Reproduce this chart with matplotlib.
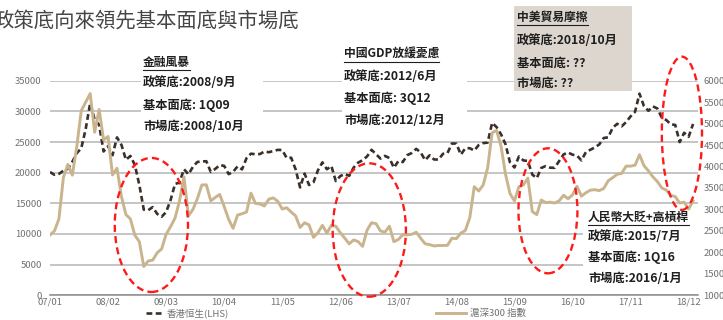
import numpy as np
import matplotlib
matplotlib.use('Agg')
import matplotlib.pyplot as plt
from matplotlib.patches import Ellipse, Rectangle
from matplotlib.lines import Line2D

plt.rcParams['font.family'] = ['Noto Sans CJK TC', 'DejaVu Sans']

# monthly closes, Jan 2007 .. Jan 2019
hsi = [20106, 19651, 19801, 20318, 20635, 21773, 23185, 23984, 27143, 31352, 28643, 27813,
       23456, 24332, 22849, 25755, 24533, 22102, 22731, 21261, 18016, 13969, 13888, 14387,
       13278, 12812, 13576, 15521, 18171, 18379, 20573, 19724, 20955, 21753, 21822, 21873,
       20122, 20609, 21239, 21108, 19765, 20129, 21030, 20536, 22359, 23096, 23008, 23035,
       23447, 23338, 23528, 23720, 23684, 22398, 22440, 20535, 17592, 19864, 17989, 18434,
       20390, 21680, 20556, 21094, 18630, 19441, 19797, 19482, 20840, 21642, 22030, 22657,
       23729, 23020, 22300, 22737, 22392, 20803, 21883, 21731, 22860, 23206, 23881, 23306,
       22035, 22837, 22151, 22134, 23082, 23191, 24757, 24742, 22933, 23998, 23987, 23605,
       24507, 24823, 24901, 28133, 27424, 26250, 24636, 21671, 20846, 22640, 21996, 21914,
       19683, 19112, 20777, 21067, 20815, 20794, 21891, 22977, 23297, 22935, 22790, 22001,
       23361, 23741, 24112, 24615, 25661, 25765, 27324, 27970, 27554, 28246, 29177, 29919,
       32887, 30845, 30093, 30808, 30469, 28955, 28583, 27889, 27789, 24980, 26507, 25846,
       27942]

csi300 = [2405, 2500, 2780, 3750, 4050, 3800, 4470, 5300, 5500, 5700, 4800, 5330,
          4620, 4700, 3805, 3960, 3300, 2880, 2780, 2400, 2250, 1670, 1800, 1820,
          1990, 2080, 2420, 2600, 2800, 3200, 3760, 2850, 3000, 3250, 3570, 3575,
          3200, 3280, 3350, 3070, 2770, 2560, 2870, 2900, 2940, 3380, 3140, 3130,
          3080, 3240, 3270, 3190, 3010, 3040, 2940, 2850, 2580, 2690, 2640, 2350,
          2460, 2630, 2450, 2630, 2610, 2460, 2330, 2200, 2290, 2250, 2140, 2520,
          2690, 2670, 2500, 2470, 2610, 2250, 2300, 2410, 2410, 2420, 2470, 2330,
          2200, 2180, 2150, 2160, 2160, 2165, 2330, 2320, 2450, 2510, 2810, 3530,
          3430, 3570, 3970, 4790, 4840, 4470, 3820, 3370, 3200, 3530, 3570, 3730,
          2950, 2880, 3220, 3160, 3170, 3150, 3200, 3330, 3250, 3340, 3540, 3310,
          3390, 3450, 3460, 3440, 3490, 3670, 3740, 3820, 3840, 4010, 4010, 4030,
          4275, 4020, 3900, 3760, 3650, 3500, 3450, 3330, 3300, 3150, 3170, 3010,
          3200]

tick_labels = ['07/01', '08/02', '09/03', '10/04', '11/05', '12/06',
               '13/07', '14/08', '15/09', '16/10', '17/11', '18/12']

# (month centre, width in months, HSI centre, height in HSI units)
ellipses = [(22.7, 16.4, 11470, 21860),
            (71.5, 16.4, 10650, 21750),
            (111.5, 13.2, 13780, 20390),
            (141.5, 9.0, 26420, 25000)]

notes = [
    ('金融風暴', ['政策底:2008/9月', '基本面底: 1Q09', '市場底:2008/10月'], 143, [62, 82, 105, 127]),
    ('中國GDP放緩憂慮', ['政策底:2012/6月', '基本面底: 3Q12', '市場底:2012/12月'], 344, [54, 76, 98, 120]),
    ('中美貿易摩擦', ['政策底:2018/10月', '基本面底: ??', '市場底: ??'], 517, [17, 41, 63, 83]),
    ('人民幣大貶+高槓桿', ['政策底:2015/7月', '基本面底: 1Q16', '市場底:2016/1月'], 588, [217, 237, 257, 278]),
]

W, H = 723, 320
def fx(px):
    return px / W
def fy(py):
    return 1 - py / H

fig = plt.figure(figsize=(W / 100, H / 100), dpi=100)
ax = fig.add_axes([fx(50), fy(295.3), 648 / W, 214.6 / H])
months = np.arange(len(hsi))

ax.plot(months, hsi, color='#3b3029', lw=1.9, ls=(0, (2.2, 1.3)), zorder=3)
ax.set_xlim(0, 145.1)
ax.set_ylim(0, 35000)
ax.set_yticks(np.arange(0, 35001, 5000))
ax.set_xticks(np.arange(0, 144, 13))
ax.set_xticklabels(tick_labels)
ax.grid(axis='y', color='#b5b5b5', lw=1.1)
ax.set_axisbelow(True)
for s in ['top', 'left', 'right']:
    ax.spines[s].set_visible(False)
ax.spines['bottom'].set_color('#8a8a8a')
ax.spines['bottom'].set_linewidth(1.1)
ax.tick_params(length=0, labelsize=6.8, colors='#707070', pad=6)
ax.tick_params(axis='x', pad=1.5)

ax2 = ax.twinx()
ax2.plot(months, csi300, color='#c9b48e', lw=2.1, zorder=3)
ax2.set_ylim(1000, 6000)
ax2.set_yticks(np.arange(1000, 6001, 500))
for s in ['top', 'left', 'right', 'bottom']:
    ax2.spines[s].set_visible(False)
ax2.tick_params(length=0, labelsize=6.8, colors='#707070', pad=4)

# boxes behind the annotation text
boxes = [(141, 72, 263, 137, 'white'), (342, 66, 467, 130, 'white'),
         (514, 6, 632, 91, '#ddd6cf'), (583, 209, 698, 292, 'white')]
for x0, y0, x1, y1, c in boxes:
    ax2.add_patch(Rectangle((fx(x0), fy(y1)), fx(x1) - fx(x0), fy(y0) - fy(y1),
                            transform=fig.transFigure, facecolor=c, edgecolor='none',
                            zorder=1, clip_on=False))

# red dashed circles, in data units of the left axis
for xc, w, yc, h in ellipses:
    e = Ellipse((xc, yc), w, h, fill=False, edgecolor='#ff1a1a',
                lw=1.7, ls=(0, (3, 1.8)), clip_on=False, zorder=5)
    e.set_transform(ax.transData)
    ax2.add_patch(e)

fig.text(fx(-7), fy(22), '政策底向來領先基本面底與市場底', fontsize=14.7,
         va='center', ha='left', color='#454545')

titles = []
for head, lines, x, ys in notes:
    t = fig.text(fx(x), fy(ys[0]), head, fontsize=8.5, fontweight='bold',
                 va='center', color='#1f1f1f')
    titles.append(t)
    for s, y in zip(lines, ys[1:]):
        fig.text(fx(x), fy(y), s, fontsize=8.8, fontweight='bold', va='center',
                 color='#1f1f1f')

fig.canvas.draw()
r = fig.canvas.get_renderer()
for t in titles:
    bb = t.get_window_extent(r).transformed(fig.transFigure.inverted())
    fig.add_artist(Line2D([bb.x0, bb.x1], [bb.y0 - 0.004, bb.y0 - 0.004],
                          transform=fig.transFigure, color='#1f1f1f', lw=0.8))

# legend
fig.add_artist(Line2D([fx(146), fx(164)], [fy(313), fy(313)], transform=fig.transFigure,
                      color='#3b3029', lw=1.9, ls=(0, (2.2, 1.3))))
fig.text(fx(167), fy(313.5), '香港恒生(LHS)', fontsize=6.8, va='center', color='#707070')
fig.add_artist(Line2D([fx(436), fx(466)], [fy(313), fy(313)], transform=fig.transFigure,
                      color='#c9b48e', lw=2.1))
fig.text(fx(470), fy(313.5), '滬深300 指數', fontsize=6.8, va='center', color='#707070')

fig.savefig('out.png', dpi=100)
